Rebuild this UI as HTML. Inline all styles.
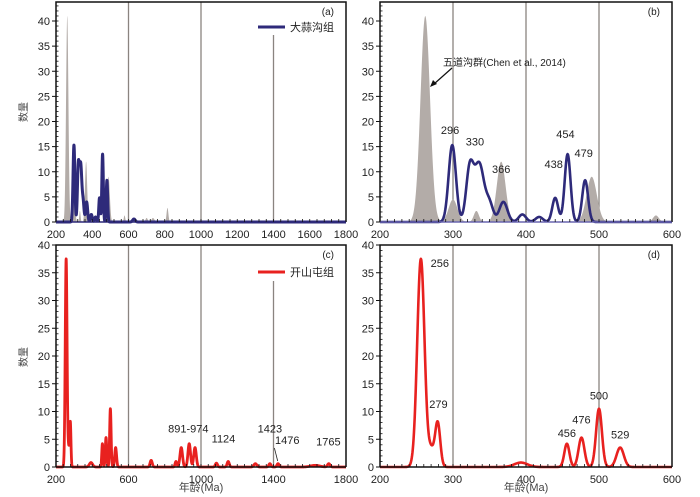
<!DOCTYPE html>
<html><head><meta charset="utf-8">
<style>
body{margin:0;background:#fff;}
svg{display:block;font-family:"Liberation Sans","Noto Sans CJK SC",sans-serif;}
</style></head>
<body>
<svg id="fig" width="700" height="497" viewBox="0 0 700 497" xmlns="http://www.w3.org/2000/svg"></svg>
<script>
// ---- data: probability-density peaks ----
const greyCenters = [262, 300, 332, 366, 490, 578, 700, 735, 815];
const greyHeights = [41, 4.5, 2.2, 12, 9, 1.3, 0.8, 0.8, 2.8];
const greyWidths  = [6.5, 6, 3.5, 6, 7, 4, 6, 8, 5];
const blueCenters = [299, 323, 336, 350, 369, 395, 418, 440, 457, 481, 630];
const blueHeights = [15.3, 10.5, 11.5, 3.5, 4.0, 1.5, 1.0, 4.8, 13.5, 8.3, 0.6];
const blueWidths  = [5, 5, 6.5, 5, 5.5, 5, 5, 4, 4, 4, 7];
const redCenters = [256, 270, 279, 393, 456, 476, 500, 529, 725, 862, 891, 935, 967, 1085, 1150, 1300, 1380, 1425, 1630, 1705];
const redHeights = [37.5, 3, 8, 0.8, 4.2, 5.3, 10.5, 3.5, 1.2, 1.0, 3.5, 4.2, 3.5, 0.7, 1.0, 0.6, 0.6, 0.6, 0.3, 0.6];
const redWidths  = [5, 4, 3.5, 9, 3.5, 4, 4, 5, 6, 5, 7, 7, 7, 6, 6, 8, 6, 6, 25, 7];
const yTicks = [0, 5, 10, 15, 20, 25, 30, 35, 40];
const xTicksWide = [200, 400, 600, 800, 1000, 1200, 1400, 1600, 1800];
const xTicksWideC = [200, 600, 1000, 1400, 1800];
const xTicksNarrow = [200, 300, 400, 500, 600];
const labelsB = ["296", "330", "366", "438", "454", "479"];
const labelsBx = [296, 330, 366, 438, 454, 479];
const labelsBy = [17.5, 15.2, 9.8, 10.7, 16.7, 12.9];
const labelsD = ["256", "279", "456", "476", "500", "529"];
const labelsDx = [282, 280, 456, 476, 500, 529];
const labelsDy = [36, 10.6, 5.4, 7.8, 12.2, 5.1];
const labelsC = ["891-974", "1124", "1423", "1476", "1765"];
const labelsCx = [930, 1124, 1380, 1476, 1703];
const labelsCy = [6.2, 4.4, 6.2, 4.1, 3.9];

const NS = "http://www.w3.org/2000/svg";
const svg = document.getElementById('fig');
function el(tag, attrs, parent, text){
  const e = document.createElementNS(NS, tag);
  for (const k in attrs) e.setAttribute(k, attrs[k]);
  if (text !== undefined) e.textContent = text;
  (parent || svg).appendChild(e);
  return e;
}
function density(x, c, h, w){
  let s = 0;
  for (let i = 0; i < c.length; i++){ const d = (x - c[i]) / w[i]; s += h[i] * Math.exp(-0.5 * d * d); }
  return s;
}
function panel(cfg){
  const g = el('g', {});
  
  
  const X = v => cfg.x0 + (v - cfg.xmin) / (cfg.xmax - cfg.xmin) * (cfg.x1 - cfg.x0);
  const Y = v => cfg.y0 - v / 40 * (cfg.y0 - cfg.y40);
  cfg.vlines.forEach((v, i) => {
    const l = el('line', {x1: X(v), x2: X(v), y1: (cfg.vtop && cfg.vtop[i]) || cfg.top, y2: cfg.y0, stroke: '#8a8480', 'stroke-width': 1.3}, g);
    
    
  });
  function curve(c, h, w, fill, stroke, sw, nm){
    let pts = [];
    for (let x = cfg.xmin; x <= cfg.xmax; x += cfg.step) pts.push([X(x), Y(density(x, c, h, w))]);
    let d = 'M' + pts.map(p => p[0].toFixed(2) + ',' + p[1].toFixed(2)).join('L');
    if (fill) d += 'L' + X(cfg.xmax) + ',' + Y(0) + 'L' + X(cfg.xmin) + ',' + Y(0) + 'Z';
    const p = el('path', {d: d, fill: fill || 'none', stroke: stroke || 'none', 'stroke-width': sw || 0, 'stroke-linejoin': 'round'}, g);
    
    
  }
  if (cfg.grey) curve(greyCenters, greyHeights, greyWidths, '#b3aca8', null, 0, 'chen-2014-density');
  if (cfg.blue) curve(blueCenters, blueHeights, blueWidths, null, '#2e2a7a', cfg.sw, 'dasuangou-density');
  if (cfg.red) curve(redCenters, redHeights, redWidths, null, '#e8211f', cfg.sw, 'kaishantun-density');
  const fr = el('path', {d: `M${cfg.x0},${cfg.y0}V${cfg.top}H${cfg.x1}V${cfg.y0}`, fill: 'none', stroke: '#111', 'stroke-width': 1.5}, g);
  
  
  const xa = el('line', {x1: cfg.x0, x2: cfg.x1, y1: cfg.y0, y2: cfg.y0, stroke: cfg.axisColor, 'stroke-width': 1.6}, g);
  
  
  yTicks.forEach(t => {
    el('line', {x1: cfg.x0 - 4, x2: cfg.x0, y1: Y(t), y2: Y(t), stroke: '#111', 'stroke-width': 1}, g);
    const tx = el('text', {x: cfg.x0 - 6, y: Y(t) + 4, 'font-size': 11, 'text-anchor': 'end', fill: '#222'}, g, t);
    
    
  });
  for (let t = 1; t < 44; t++) {
    if (Y(t) < cfg.top) break;
    el('line', {x1: cfg.x0, x2: cfg.x0 + 2.5, y1: Y(t), y2: Y(t), stroke: '#111', 'stroke-width': 0.8}, g);
  }
  const minorStep = (cfg.xmax - cfg.xmin) / 40;
  for (let v = cfg.xmin; v <= cfg.xmax + 0.1; v += minorStep)
    el('line', {x1: X(v), x2: X(v), y1: cfg.y0 - 3, y2: cfg.y0, stroke: '#111', 'stroke-width': 0.8}, g);
  cfg.xticks.forEach(t => {
    const tx = el('text', {x: X(t), y: cfg.y0 + 16, 'font-size': 11, 'text-anchor': 'middle', fill: '#222'}, g, t);
    
    
  });
  const pl = el('text', {x: cfg.x1 - 12, y: cfg.top + 13, 'font-size': 10, 'text-anchor': 'end', fill: '#222'}, g, cfg.letter);
  
  
  if (cfg.labels) cfg.labels.forEach((s, i) => {
    const tx = el('text', {x: X(cfg.lx[i]), y: Y(cfg.ly[i]), 'font-size': 11, 'text-anchor': 'middle', fill: '#222'}, g, s);
    
    
  });
  return {g, X, Y};
}
const A = panel({name:'panel-a', letter:'(a)', x0:56, x1:346, xmin:200, xmax:1800, y0:222, y40:21, top:2, step:0.5, sw:3,
  vlines:[600,1000,1400], vtop:[0,0,35], grey:true, blue:true, xticks:xTicksWide, axisColor:'#2e2a7a'});
const B = panel({name:'panel-b', letter:'(b)', x0:380, x1:672, xmin:200, xmax:600, y0:222, y40:21, top:2, step:0.5, sw:2.6,
  vlines:[300,400,500], grey:true, blue:true, xticks:xTicksNarrow, axisColor:'#6a66b0', labels:labelsB, lx:labelsBx, ly:labelsBy});
const C = panel({name:'panel-c', letter:'(c)', x0:56, x1:346, xmin:200, xmax:1800, y0:467, y40:245, top:245, step:0.5, sw:2.8,
  vlines:[600,1000,1400], vtop:[0,0,281], red:true, xticks:xTicksWideC, axisColor:'#111', labels:labelsC, lx:labelsCx, ly:labelsCy});
const D = panel({name:'panel-d', letter:'(d)', x0:380, x1:672, xmin:200, xmax:600, y0:467, y40:245, top:245, step:0.5, sw:2.6,
  vlines:[300,400,500], red:true, xticks:xTicksNarrow, axisColor:'#111', labels:labelsD, lx:labelsDx, ly:labelsDy});

function legend(x, y, color, text, nm){
  const g = el('g', {});
  
  
  el('line', {x1: x, x2: x + 27, y1: y, y2: y, stroke: color, 'stroke-width': 3}, g);
  el('text', {x: x + 32, y: y + 4, 'font-size': 11, fill: '#222'}, g, text);
}
legend(258, 27, '#2e2a7a', '大蒜沟组', 'legend-dasuangou');
legend(258, 272, '#e8211f', '开山屯组', 'legend-kaishantun');

const ann = el('text', {x: 443, y: 66, 'font-size': 10, fill: '#222'}, null, '五道沟群(Chen et al., 2014)');


const arr = el('line', {x1: 452, y1: 68, x2: 434, y2: 84, stroke: '#111', 'stroke-width': 1.2});


el('path', {d: 'M430,87 L433,80 L437,84 Z', fill: '#111'});
el('line', {x1: C.X(1405), y1: 448, x2: C.X(1423), y2: 461, stroke: '#222', 'stroke-width': 0.8});

[[27,112],[27,357]].forEach(p => {
  const t = el('text', {x: p[0], y: p[1], 'font-size': 10, 'text-anchor': 'middle', fill: '#444', transform: `rotate(-90 ${p[0]} ${p[1]})`}, null, '数量');
  
  
});
[[201,491],[526,491]].forEach(p => {
  const t = el('text', {x: p[0], y: p[1], 'font-size': 11, 'text-anchor': 'middle', fill: '#444'}, null, '年龄(Ma)');
  
  
});
</script>
</body></html>
